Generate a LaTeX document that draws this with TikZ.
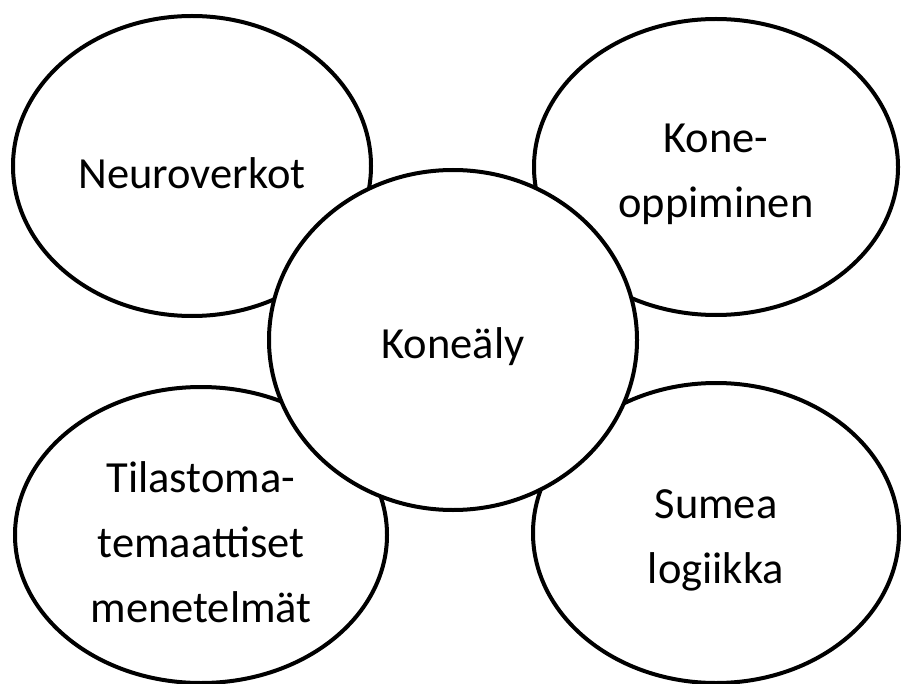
\documentclass[tikz,border=0pt]{standalone}
\usepackage{fontspec}
\setmainfont{Carlito}
\usetikzlibrary{shapes.geometric}

\begin{document}
\begin{tikzpicture}[
            x = 1pt, y = -1pt, % one unit per pixel, y down
            line width = 4pt, % line style
            font = \fontsize{44.5}{65}\selectfont
        ]

        \tikzstyle{topic}=[
            ellipse,
            draw = black,
            fill = white,
            inner sep = 0pt
        ]
        \tikzstyle{caption}=[
            align = center,
            inner sep = 0pt,
            yshift = -7pt % text sits a bit low in the ellipse
        ]

        \useasboundingbox (0,0) rectangle (901,684);

        \node[topic, minimum width = 358pt, minimum height = 300pt] (neuro) at (192,166) {};
        \node[topic, minimum width = 364pt, minimum height = 296pt] (kone) at (716,167) {};
        \node[topic, minimum width = 372pt, minimum height = 296pt] (tila) at (201,535) {};
        \node[topic, minimum width = 366pt, minimum height = 300pt] (sumea) at (716,533) {};
        \node[topic, minimum width = 368pt, minimum height = 340pt] (ai) at (453,340) {};

        \node[caption] (neuro text) at (neuro.center) {Neuroverkot};
        \node[caption] (kone text) at (kone.center) {Kone-\\oppiminen};
        \node[caption] (tila text) at (tila.center) {Tilastoma-\\temaattiset\\menetelmät};
        \node[caption] (sumea text) at (sumea.center) {Sumea\\logiikka};
        \node[caption] (ai text) at (ai.center) {Koneäly};

  \end{tikzpicture}
\end{document}
